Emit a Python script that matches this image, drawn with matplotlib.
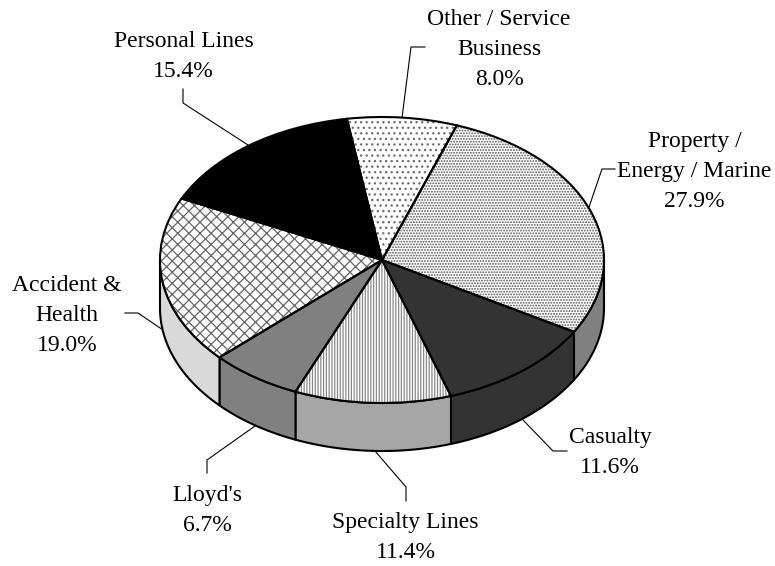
import numpy as np
import matplotlib
matplotlib.use("Agg")
import matplotlib.pyplot as plt
from matplotlib.patches import Wedge, Polygon
from matplotlib.transforms import Affine2D

labels = ["Property /\nEnergy / Marine\n27.9%", "Casualty\n11.6%", "Specialty Lines\n11.4%",
          "Lloyd's\n6.7%", "Accident &\nHealth\n19.0%", "Personal Lines\n15.4%",
          "Other / Service\nBusiness\n8.0%"]
values = [27.9, 11.6, 11.4, 6.7, 19.0, 15.4, 8.0]
top_colors = ["white", "#333333", "white", "#808080", "white", "black", "white"]
hatches = ["......", None, "||||||", None, "xxx", None, "..."]
hatch_colors = ["#555555", None, "#8a8a8a", None, "#666666", None, "#6a6a6a"]
side_colors = ["#808080", "#333333", "#a6a6a6", "#808080", "#d9d9d9", "black", "white"]
label_xy = [(694.5, 207), (610, 473), (405.5, 558), (207.5, 531), (67, 351), (183.5, 77), (499, 85)]
leaders = [[(588, 210), (602, 169), (615, 169)], [(523, 420), (553, 451), (567, 451)],
           [(375, 451), (406, 487), (406, 501)], [(255, 426), (207, 460), (207, 473)],
           [(163, 330), (138, 313), (125, 313)], [(248, 145), (183, 103), (183, 89)],
           [(402, 118), (411, 47), (425, 47)]]

plt.rcParams["font.family"] = ["Liberation Serif", "DejaVu Serif"]
plt.rcParams["hatch.linewidth"] = 0.9

fig = plt.figure(figsize=(7.75, 5.66), dpi=100)
ax = fig.add_axes([0, 0, 1, 1])
ax.set_xlim(0, 775)
ax.set_ylim(566, 0)
ax.axis("off")

cx, cy, rx, ry, depth = 382, 260, 222, 143, 48
start = 19.7
fracs = np.cumsum([0] + values) / sum(values) * 360 + start


def pt(a):
    r = np.radians(np.asarray(a, float))
    return cx + rx * np.sin(r), cy - ry * np.cos(r)


# side walls: clockwise-from-top angles between 90 and 270 face the viewer
for i in range(len(values)):
    a0, a1 = max(fracs[i], 90), min(fracs[i + 1], 270)
    if a1 <= a0:
        continue
    t = np.linspace(a0, a1, 80)
    x, y = pt(t)
    verts = np.r_[np.c_[x, y], np.c_[x[::-1], y[::-1] + depth]]
    ax.add_patch(Polygon(verts, closed=True, fc=side_colors[i], ec="black", lw=1.5, joinstyle="round", zorder=1))

# top slices, drawn on a unit circle squashed into the ellipse (y axis runs downward)
tr = Affine2D().scale(rx, -ry).translate(cx, cy) + ax.transData
for i in range(len(values)):
    th1, th2 = 90 - fracs[i + 1], 90 - fracs[i]
    w = Wedge((0, 0), 1, th1, th2, fc=top_colors[i], ec="none", transform=tr, zorder=2)
    if hatches[i]:
        w.set_hatch(hatches[i])
        w.set_edgecolor(hatch_colors[i])
        w.set_linewidth(0)
    ax.add_patch(w)
    e = Wedge((0, 0), 1, th1, th2, fc="none", ec="black", lw=1.5, transform=tr, zorder=3)
    ax.add_patch(e)

for pts in leaders:
    ax.plot(*zip(*pts), color="black", lw=0.8, zorder=0)
for (x, y), s in zip(label_xy, labels):
    ax.text(x, y, s, ha="center", va="baseline", multialignment="center",
            fontsize=17, linespacing=1.55, color="black")

fig.savefig("out.png", dpi=100)
